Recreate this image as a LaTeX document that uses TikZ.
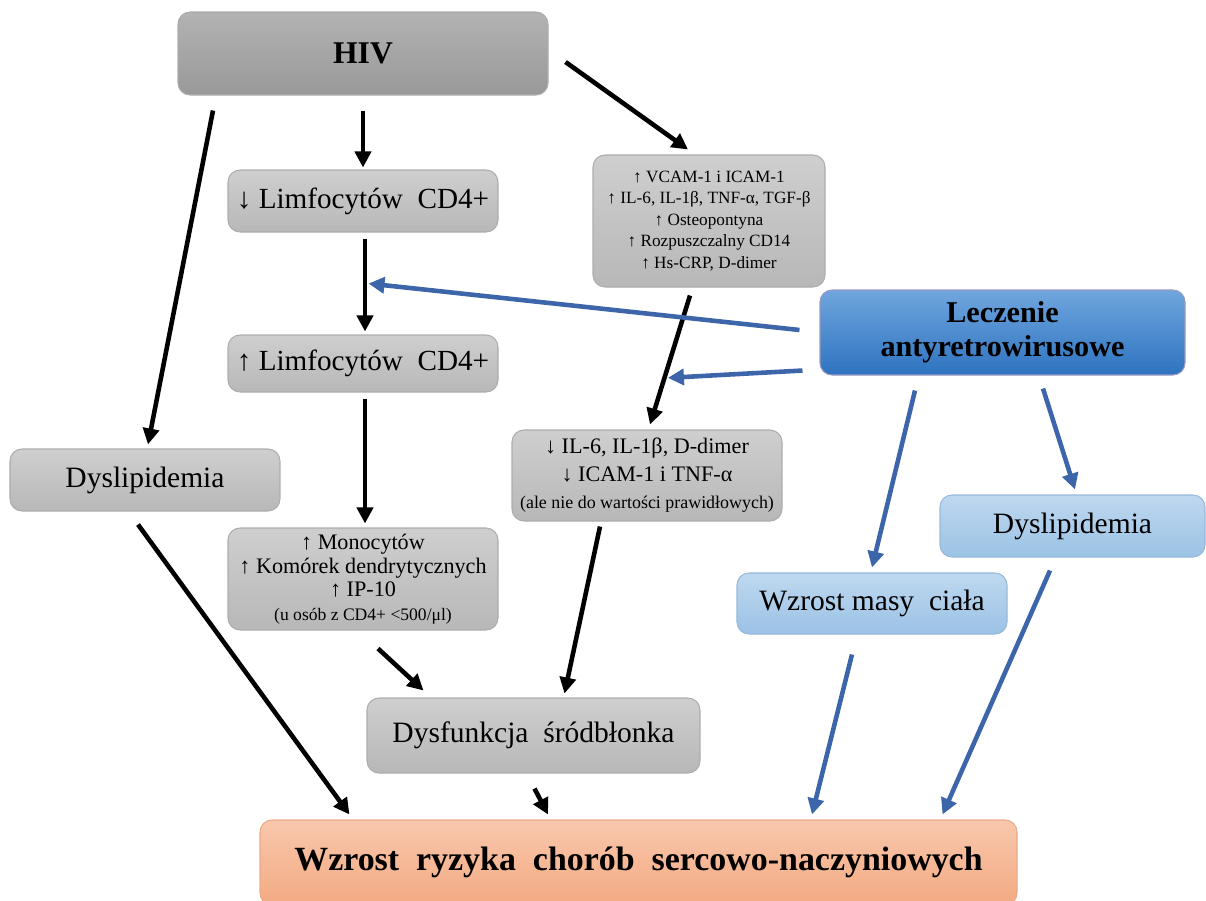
\documentclass[tikz,border=0pt]{standalone}
\usepackage{fontspec}
\setmainfont{Liberation Serif}
\usetikzlibrary{arrows.meta}
\definecolor{arrowblue}{RGB}{61,101,170}
\begin{document}
\begin{tikzpicture}[>={Triangle[length=1.6mm,width=1.6mm]},line join=round,
  box/.style={draw=black!32,line width=0.3pt,rounded corners=1.2mm,inner sep=0pt,align=center,top color=black!19,bottom color=black!28},
  darkbox/.style={box,top color=black!30,bottom color=black!40},
  bluebox/.style={box,draw=blue!40!black!40,top color={rgb,255:red,112;green,166;blue,222},bottom color={rgb,255:red,46;green,115;blue,192}},
  lightbox/.style={box,draw={rgb,255:red,150;green,185;blue,220},top color={rgb,255:red,191;green,216;blue,239},bottom color={rgb,255:red,155;green,194;blue,229}},
  orangebox/.style={box,draw={rgb,255:red,235;green,170;blue,135},top color={rgb,255:red,248;green,199;blue,172},bottom color={rgb,255:red,243;green,170;blue,130}},
  mid/.style={font=\fontsize{8.4}{10}\selectfont},
  blk/.style={->,line width=1.3pt},
  blu/.style={->,line width=1.3pt,draw=arrowblue,fill=arrowblue}]
\useasboundingbox (0,0) rectangle (12.06,-9.00);
% boxes
\node[darkbox,minimum width=3.70cm,minimum height=0.83cm,font=\fontsize{9}{11}\selectfont\bfseries] (hiv) at (3.63,-0.535) {HIV};
\node[box,font=\fontsize{8.3}{10}\selectfont,minimum width=2.70cm,minimum height=0.62cm] (limdown) at (3.63,-2.01) {↓ Limfocytów\ \ CD4+};
\node[box,font=\fontsize{8.3}{10}\selectfont,minimum width=2.70cm,minimum height=0.57cm] (limup) at (3.63,-3.635) {↑ Limfocytów\ \ CD4+};
\node[box,minimum width=2.32cm,minimum height=1.32cm,font=\fontsize{4.9}{6.1}\selectfont] (vcam) at (7.09,-2.21)
  {↑ VCAM-1 i ICAM-1\\↑ IL-6, IL-1β, TNF-α, TGF-β\\↑ Osteopontyna\\↑ Rozpuszczalny CD14\\↑ Hs-CRP, D-dimer};
\node[bluebox,minimum width=3.65cm,minimum height=0.85cm,font=\fontsize{8.6}{9.7}\selectfont\bfseries] (art) at (10.025,-3.325) {Leczenie\\antyretrowirusowe};
\node[box,mid,minimum width=2.70cm,minimum height=0.62cm] (dysl) at (1.45,-4.80) {Dyslipidemia};
\node[box,minimum width=2.70cm,minimum height=0.91cm,font=\fontsize{6.3}{7.8}\selectfont] (ildown) at (6.47,-4.755)
  {↓ IL-6, IL-1β, D-dimer\\↓ ICAM-1 i TNF-α\\{\fontsize{5.1}{6}\selectfont (ale nie do wartości prawidłowych)}};
\node[box,minimum width=2.70cm,minimum height=1.02cm,font=\fontsize{6.3}{6.7}\selectfont] (mono) at (3.63,-5.79)
  {↑ Monocytów\\↑ Komórek dendrytycznych\\↑ IP-10\\{\fontsize{5}{5.5}\selectfont (u osób z CD4+ <500/μl)}};
\node[lightbox,mid,minimum width=2.70cm,minimum height=0.61cm] (masa) at (8.72,-6.035) {Wzrost\ masy\ \ ciała};
\node[lightbox,mid,minimum width=2.65cm,minimum height=0.62cm] (dysr) at (10.725,-5.26) {Dyslipidemia};
\node[box,mid,minimum width=3.33cm,minimum height=0.75cm] (dysf) at (5.335,-7.355) {Dysfunkcja\ \ śródbłonka};
\node[orangebox,minimum width=7.57cm,minimum height=0.85cm,font=\fontsize{9.65}{11}\selectfont\bfseries] (ryzyko) at (6.385,-8.625)
  {Wzrost\ \ ryzyka\ \ chorób\ \ sercowo-naczyniowych};
% black arrows
\draw[blk] ([shift={(-1.50,-0.15)}]hiv.south) -- ([shift={(0.03,0.04)}]dysl.north);
\draw[blk] ([shift={(0.00,-0.15)}]hiv.south) -- ([shift={(0.00,0.02)}]limdown.north);
\draw[blk] ([shift={(0.17,-0.085)}]hiv.east) -- ([shift={(-0.21,0.05)}]vcam.north);
\draw[blk] ([shift={(0.02,-0.06)}]limdown.south) -- coordinate[pos=0.48] (hitlim) ([shift={(0.02,0.03)}]limup.north);
\draw[blk] ([shift={(0.02,-0.06)}]limup.south) -- ([shift={(0.02,0.04)}]mono.north);
\draw[blk] ([shift={(-0.19,-0.08)}]vcam.south) -- coordinate[pos=0.64] (hitil) ([shift={(0.03,0.05)}]ildown.north);
\draw[blk] ([shift={(-0.07,-0.13)}]dysl.south) -- ([shift={(0.90,0.05)}]ryzyko.north west);
\draw[blk] ([shift={(0.15,-0.18)}]mono.south) -- ([shift={(0.57,0.07)}]dysf.north west);
\draw[blk] ([shift={(-0.47,-0.05)}]ildown.south) -- ([shift={(0.31,0.04)}]dysf.north);
\draw[blk] ([shift={(0.01,-0.15)}]dysf.south) -- ([shift={(-0.905,0.05)}]ryzyko.north);
% blue arrows
\draw[blu,shorten >=1pt] ([shift={(-0.20,0.025)}]art.west) -- (hitlim);
\draw[blu,shorten >=1pt] ([shift={(-0.17,0.05)}]art.south west) -- (hitil);
\draw[blu] ([shift={(-0.875,-0.15)}]art.south) -- ([shift={(0.00,0.05)}]masa.north);
\draw[blu] ([shift={(0.405,-0.13)}]art.south) -- ([shift={(0.025,0.05)}]dysr.north);
\draw[blu] ([shift={(-0.20,-0.20)}]masa.south) -- ([shift={(1.735,0.05)}]ryzyko.north);
\draw[blu] ([shift={(-0.225,-0.13)}]dysr.south) -- ([shift={(-0.75,0.05)}]ryzyko.north east);
\end{tikzpicture}
\end{document}
